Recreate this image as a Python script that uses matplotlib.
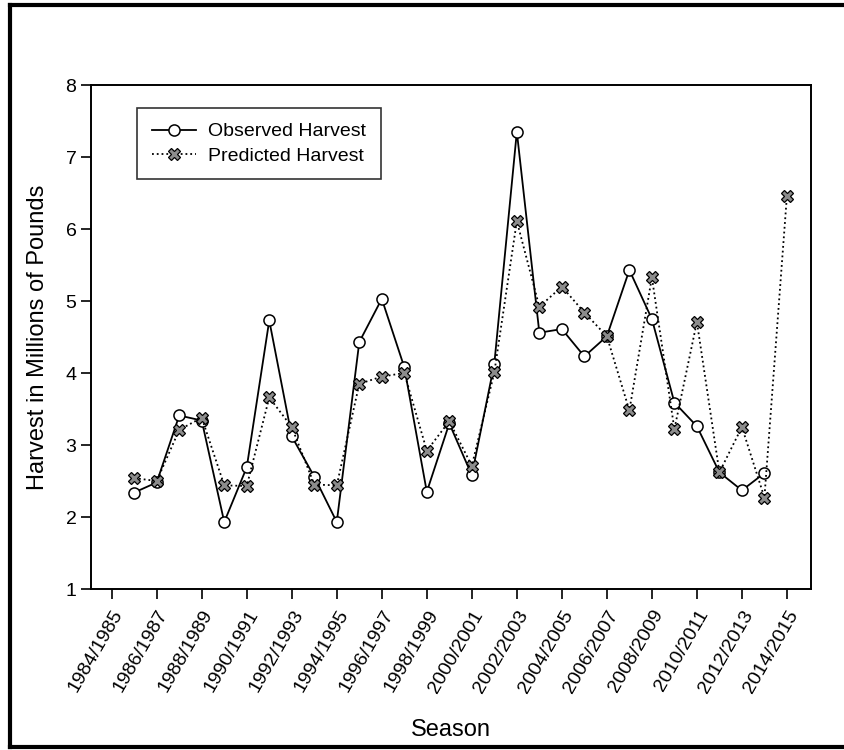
import matplotlib
matplotlib.use("Agg")
import matplotlib.pyplot as plt
from matplotlib.lines import Line2D

plt.rcParams['font.family'] = ['Liberation Sans', 'DejaVu Sans']

# season start years (tick every 2 seasons)
tick_years = list(range(1984, 2015, 2))
tick_labels = [f"{y}/{y + 1}" for y in tick_years]

obs_years = list(range(1985, 2014))
observed = [2.34, 2.48, 3.41, 3.34, 1.93, 2.69, 4.73, 3.12, 2.56, 1.93,
            4.43, 5.03, 4.08, 2.35, 3.30, 2.58, 4.13, 7.35, 4.56, 4.61,
            4.23, 4.51, 5.43, 4.75, 3.59, 3.26, 2.62, 2.37, 2.61]

pred_years = list(range(1985, 2015))
predicted = [2.54, 2.50, 3.21, 3.38, 2.44, 2.43, 3.66, 3.25, 2.45, 2.44,
             3.85, 3.95, 4.00, 2.92, 3.33, 2.71, 4.01, 6.11, 4.92, 5.20,
             4.84, 4.51, 3.48, 5.33, 3.22, 4.71, 2.62, 3.25, 2.27, 6.46]

fig = plt.figure(figsize=(8.44, 7.5), dpi=100)
ax = fig.add_axes([91 / 844, 1 - 589 / 750, 720 / 844, 504 / 750])

ax.plot(obs_years, observed, color='black', linewidth=1.3, linestyle='-',
        marker='o', markersize=8, markerfacecolor='white',
        markeredgecolor='black', markeredgewidth=1.1, label='Observed Harvest')
ax.plot(pred_years, predicted, color='black', linewidth=1.3, linestyle=':',
        marker='X', markersize=8.5, markerfacecolor='#8c8c8c',
        markeredgecolor='black', markeredgewidth=0.9, label='Predicted Harvest')

ax.set_xlim(1983.08, 2015.07)
ax.set_ylim(1, 8)
ax.set_yticks(range(1, 9))
ax.set_xticks(tick_years)
ax.set_xticklabels(tick_labels, rotation=60, ha='right', rotation_mode='anchor')

ax.tick_params(axis='both', direction='out', length=7, width=1.2,
               labelsize=14, colors='black')
ax.tick_params(axis='x', pad=6)
for s in ax.spines.values():
    s.set_linewidth(1.4)

ax.set_ylabel('Harvest in Millions of Pounds', fontsize=17, labelpad=12)
fig.text(451 / 844, 1 - 730 / 750, 'Season', fontsize=17,
         ha='center', va='center')

leg = ax.legend(loc='upper left', bbox_to_anchor=(0.064, 0.954),
                borderaxespad=0, fontsize=14, frameon=True, fancybox=False,
                edgecolor='black', handlelength=2.3, handletextpad=0.6,
                borderpad=0.75, labelspacing=0.35)
leg.get_frame().set_linewidth(1.2)

# outer frame (right edge is cut off in the original)
fw = 3
fig.add_artist(Line2D([10 / 844, 10 / 844], [3 / 750, 1 - 5 / 750],
                      color='black', linewidth=fw, transform=fig.transFigure))
fig.add_artist(Line2D([10 / 844, 1.0], [1 - 5 / 750, 1 - 5 / 750],
                      color='black', linewidth=fw, transform=fig.transFigure))
fig.add_artist(Line2D([10 / 844, 1.0], [3 / 750, 3 / 750],
                      color='black', linewidth=fw, transform=fig.transFigure))

fig.savefig('out.png', dpi=100)
